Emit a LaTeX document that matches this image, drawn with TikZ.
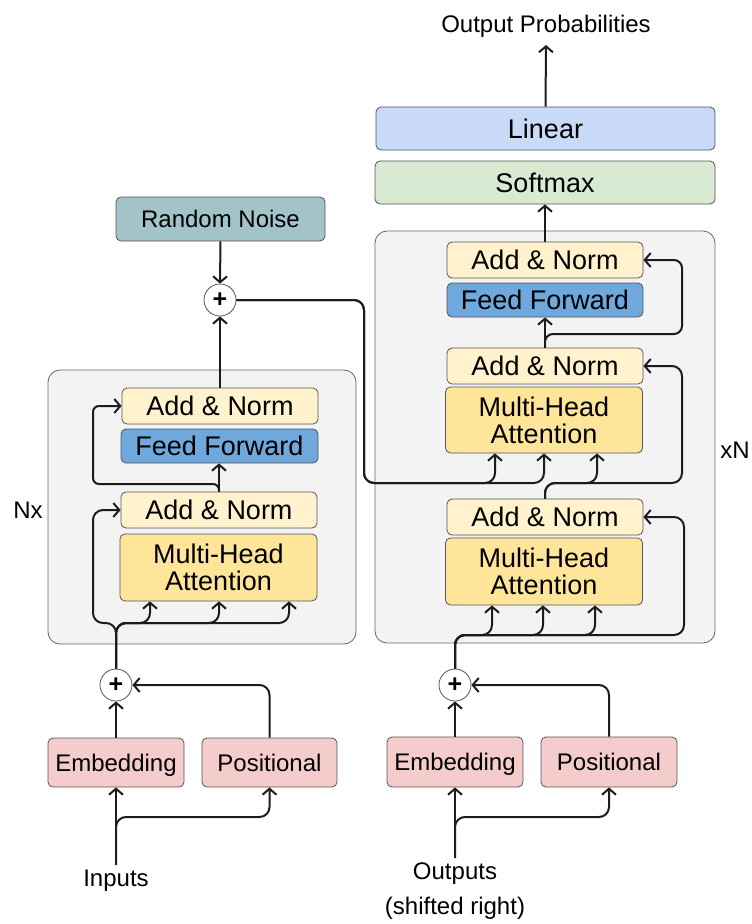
\documentclass[tikz,border=0pt]{standalone}
\usepackage{fontspec}
\setmainfont{Liberation Sans}
\usetikzlibrary{arrows.meta}
\definecolor{edge}{HTML}{555555}
\definecolor{ink}{HTML}{1C1C1C}
\definecolor{panel}{HTML}{F3F3F3}
\definecolor{anfill}{HTML}{FFF2CC}
\definecolor{fffill}{HTML}{6FA8DC}
\definecolor{mhafill}{HTML}{FFE599}
\definecolor{embfill}{HTML}{F4CCCC}
\definecolor{noisefill}{HTML}{A2C4C9}
\definecolor{smfill}{HTML}{D9EAD3}
\definecolor{linfill}{HTML}{C9DAF8}
\begin{document}
\begin{tikzpicture}[x=1pt,y=-1pt,
  blk/.style={draw=edge, line width=0.8pt, rounded corners=5pt, inner sep=0pt,
    align=center, font=\fontsize{27}{27}\selectfont, text height=19.3pt, text depth=0pt},
  small/.style={font=\fontsize{24}{24}\selectfont, text height=17.2pt, text depth=0pt},
  anbox/.style={blk, fill=anfill, minimum width=196pt, minimum height=36pt},
  ffbox/.style={blk, fill=fffill, minimum width=197pt, minimum height=34pt},
  mhabox/.style={draw=edge, line width=0.8pt, rounded corners=5pt, inner sep=0pt,
    align=center, font=\fontsize{27}{27}\selectfont, fill=mhafill,
    minimum width=197pt, minimum height=67pt},
  embbox/.style={blk, small, fill=embfill, minimum width=136pt, minimum height=49pt},
  panelbox/.style={draw=edge!90, line width=0.8pt, rounded corners=12pt, fill=panel, inner sep=0pt},
  sumnode/.style={circle, draw=edge, fill=white, line width=0.8pt, minimum size=32pt,
    inner sep=0pt, font=\fontsize{25}{25}\selectfont\bfseries},
  label/.style={inner sep=4pt, font=\fontsize{24}{24}\selectfont, text height=17.2pt, text depth=0pt},
  arr/.style={draw=ink, line width=2pt, rounded corners=10pt,
    -{Straight Barb[length=6pt,width=14pt]}},
]
\useasboundingbox (0,0) rectangle (752,924);

% ---------- containers ----------
\node[panelbox, minimum width=308pt, minimum height=274pt] (encBox) at (202,507) {};
\node[panelbox, minimum width=340pt, minimum height=412pt] (decBox) at (545,437) {};

% ---------- encoder ----------
\node[blk, small, fill=noisefill, minimum width=209pt, minimum height=44pt] (noise) at (220.5,219) {Random Noise};
\node[sumnode] (plusE) at (220,300) {+};
\node[anbox] (encAN2) at (220,406) {Add \& Norm};
\node[ffbox] (encFF) at (219.5,446) {Feed Forward};
\node[anbox] (encAN1) at (219,510) {Add \& Norm};
\node[mhabox] (encMHA) at (218.5,567.5) {Multi-Head\\Attention};
\node[label] (nx) at (28,510) {Nx};
\node[sumnode] (plusIn) at (116,685) {+};
\node[embbox] (embIn) at (116,762.5) {Embedding};
\node[embbox, minimum width=135pt] (posIn) at (269.5,762.5) {Positional};
\node[label] (inputs) at (116,878) {Inputs};

% ---------- decoder ----------
\node[label] (outprob) at (546,23.5) {Output Probabilities};
\coordinate (probTip) at (546,45);
\node[blk, fill=linfill, minimum width=339pt, minimum height=43pt] (linear) at (545.5,128.5) {Linear};
\node[blk, fill=smfill, minimum width=340pt, minimum height=43pt] (softmax) at (545,182.5) {Softmax};
\node[anbox] (decAN3) at (545,260) {Add \& Norm};
\node[ffbox, minimum width=196pt] (decFF) at (545,300) {Feed Forward};
\node[anbox] (decAN2) at (545,366) {Add \& Norm};
\node[mhabox, minimum height=66pt] (decMHA2) at (544,420) {Multi-Head\\Attention};
\node[anbox] (decAN1) at (545,517) {Add \& Norm};
\node[mhabox] (decMHA1) at (544,571.5) {Multi-Head\\Attention};
\node[label] (xn) at (735,450) {xN};
\node[sumnode] (plusOut) at (455,685) {+};
\node[embbox, minimum height=50pt] (embOut) at (455,762) {Embedding};
\node[embbox, minimum height=50pt] (posOut) at (609,762) {Positional};
\node[label] (outputs) at (455,871) {Outputs};
\node[label] (shifted) at (455,906) {(shifted right)};

% ---------- encoder connectors ----------
\draw[arr] (inputs.north) -- (embIn.south);
\draw[arr] (inputs.north) -- (116,817) -- (269.5,817) -- (posIn.south);
\draw[arr] (embIn.north) -- (plusIn.south);
\draw[arr] (posIn.north) -- (269.5,685) -- (plusIn.east);
\draw[arr] (plusIn.north) -- (116,623) -- (150,623) -- (150,0 |- encMHA.south);
\draw[arr] (plusIn.north) -- (116,623) -- (219,623) -- (219,0 |- encMHA.south);
\draw[arr] (plusIn.north) -- (116,623) -- (289,623) -- (289,0 |- encMHA.south);
\draw[arr] (plusIn.north) -- (116,623) -- (93,623) -- (93,510) -- (encAN1.west);
\draw[arr] (encAN1.north) -- (219,0 |- encFF.south);
\draw[arr, rounded corners=6pt] (encAN1.north) -- (219,484) -- (93,484) -- (93,406) -- (encAN2.west);
\draw[arr] (encAN2.north) -- (plusE.south);
\draw[arr] (noise.south) -- (plusE.north);
\draw[arr] (plusE.east) -- (364,300) -- (364,483) -- (495,483) -- (495,0 |- decMHA2.south);
\draw[arr] (plusE.east) -- (364,300) -- (364,483) -- (544,483) -- (544,0 |- decMHA2.south);

% ---------- decoder connectors ----------
\draw[arr] (outputs.north) -- (embOut.south);
\draw[arr] (outputs.north) -- (455,817) -- (609,817) -- (posOut.south);
\draw[arr] (embOut.north) -- (plusOut.south);
\draw[arr] (posOut.north) -- (609,685) -- (plusOut.east);
\draw[arr] (plusOut.north) -- (455,635) -- (492,635) -- (492,0 |- decMHA1.south);
\draw[arr] (plusOut.north) -- (455,635) -- (543,635) -- (543,0 |- decMHA1.south);
\draw[arr] (plusOut.north) -- (455,635) -- (595,635) -- (595,0 |- decMHA1.south);
\draw[arr] (plusOut.north) -- (455,635) -- (684,635) -- (684,517) -- (decAN1.east);
\draw[arr] (decAN1.north) -- (545,483) -- (597,483) -- (597,0 |- decMHA2.south);
\draw[arr] (decAN1.north) -- (545,483) -- (682,483) -- (682,366) -- (decAN2.east);
\draw[arr] (decAN2.north) -- (decFF.south);
\draw[arr, rounded corners=8pt] (decAN2.north) -- (545,334) -- (682,334) -- (682,260) -- (decAN3.east);
\draw[arr] (decAN3.north) -- (softmax.south);
\draw[arr] (linear.north) -- (probTip);
\end{tikzpicture}
\end{document}
